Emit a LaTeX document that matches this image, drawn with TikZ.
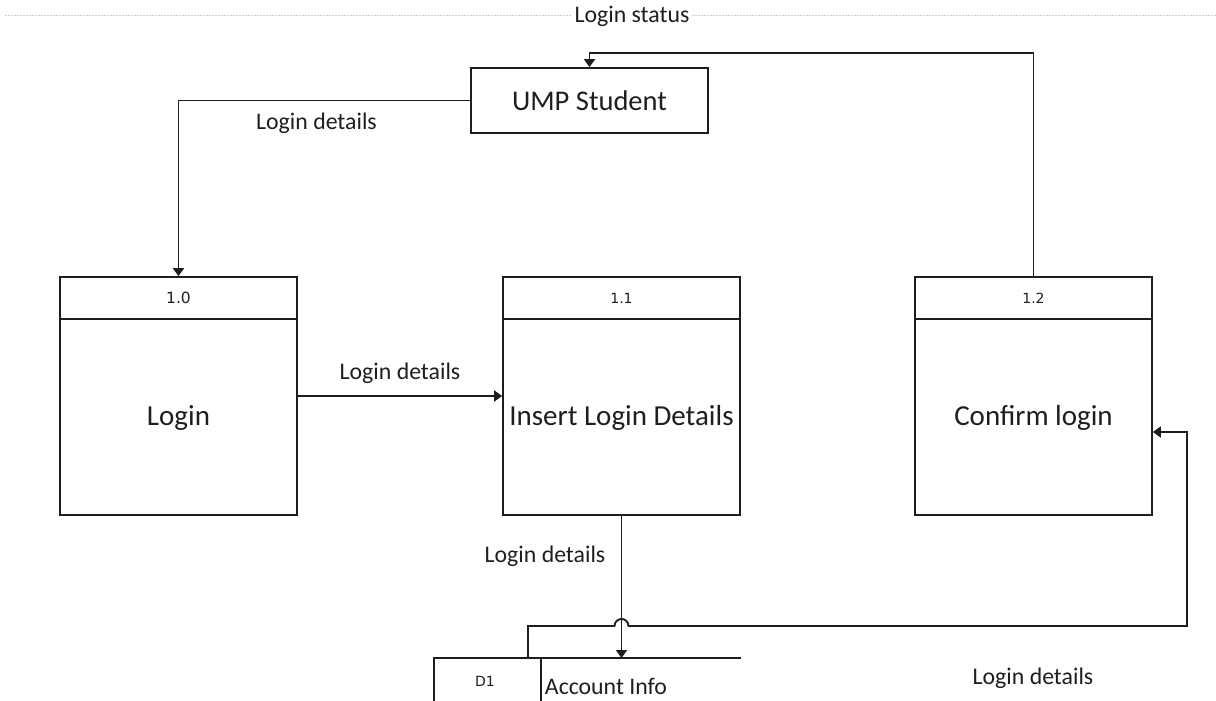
\documentclass[tikz,border=0pt]{standalone}
\usepackage{fontspec}
\setmainfont{Carlito}
\newfontfamily\idfont{DejaVu Sans}
\usetikzlibrary{arrows.meta}
\definecolor{ink}{RGB}{30,30,30}
\definecolor{guide}{RGB}{205,205,205}
\tikzset{
  flow/.style={draw=ink, line width=1.9pt},
  arr/.style={flow, -{Triangle[length=8pt,width=11pt]}},
  procbox/.style={draw=ink, line width=1.7pt, minimum width=237pt, minimum height=238pt, inner sep=0pt},
  entity/.style={draw=ink, line width=1.7pt, minimum width=237pt, minimum height=65pt, inner sep=0pt, font=\fontsize{28.5}{32}\selectfont, text=ink},
  proctext/.style={font=\fontsize{29}{33}\selectfont, text=ink},
  procid/.style={font=\idfont\fontsize{14}{16}\selectfont, text=ink},
  flowlabel/.style={font=\fontsize{23.8}{27}\selectfont, text=ink, inner sep=1pt},
}
\begin{document}
\begin{tikzpicture}[x=1pt, y=-1pt]
  \useasboundingbox (0,0) rectangle (1216,701);
  \clip (0,0) rectangle (1216,701);

  % page guide along the top
  \draw[guide, line width=0.8pt, dash pattern=on 2pt off 1pt] (5,15) -- (1216,15);
  \node[flowlabel, fill=white, inner xsep=3pt] (lstatus) at (632,16) {Login status};

  % external entity
  \node[entity] (ump) at (589.5,100.5) {UMP Student};

  % processes
  \node[procbox] (p10) at (178.5,396) {};
  \node[procbox] (p11) at (621.5,396) {};
  \node[procbox] (p12) at (1033.5,396) {};
  \foreach \p in {p10,p11,p12}
    \draw[ink, line width=1.7pt] ([yshift=-43pt]\p.north west) -- ([yshift=-43pt]\p.north east);

  \node[procid, font=\idfont\fontsize{15.5}{18}\selectfont] (id10) at (178.5,298) {1.0};
  \node[procid] (id11) at (621.5,298) {1.1};
  \node[procid] (id12) at (1033.5,298) {1.2};

  \node[proctext] (t10) at (178.5,418) {Login};
  \node[proctext] (t11) at (621.5,418) {Insert Login Details};
  \node[proctext] (t12) at (1033.5,418) {Confirm login};

  % data store D1
  \draw[ink, line width=1.7pt] (741,658) -- (434,658) -- (434,710);
  \draw[ink, line width=1.7pt] (541,658) -- (541,710);
  \node[procid] (d1) at (485,681) {D1};
  \node[flowlabel] (acct) at (606,686) {Account Info};
  \coordinate (storein) at (621.5,658);
  \coordinate (storeout) at (528,658);

  % data flows
  \coordinate (topbend) at (589.5,53);
  \draw[arr] (ump.west) -| (p10.north);
  \draw[arr] (p10.east) -- (p11.west);
  \draw[arr] (p12.north) |- (topbend) -- (ump.north);
  \draw[arr] (p11.south) -- (storein);
  \draw[arr] (storeout) |- (614.5,626) arc[start angle=180, end angle=360, radius=7] -- (1187,626) |- ([yshift=-36pt]p12.east);

  % flow labels
  \node[flowlabel] (l1) at (316.5,123) {Login details};
  \node[flowlabel] (l2) at (400,373) {Login details};
  \node[flowlabel] (l3) at (545,556) {Login details};
  \node[flowlabel] (l4) at (1033,678) {Login details};
\end{tikzpicture}
\end{document}
